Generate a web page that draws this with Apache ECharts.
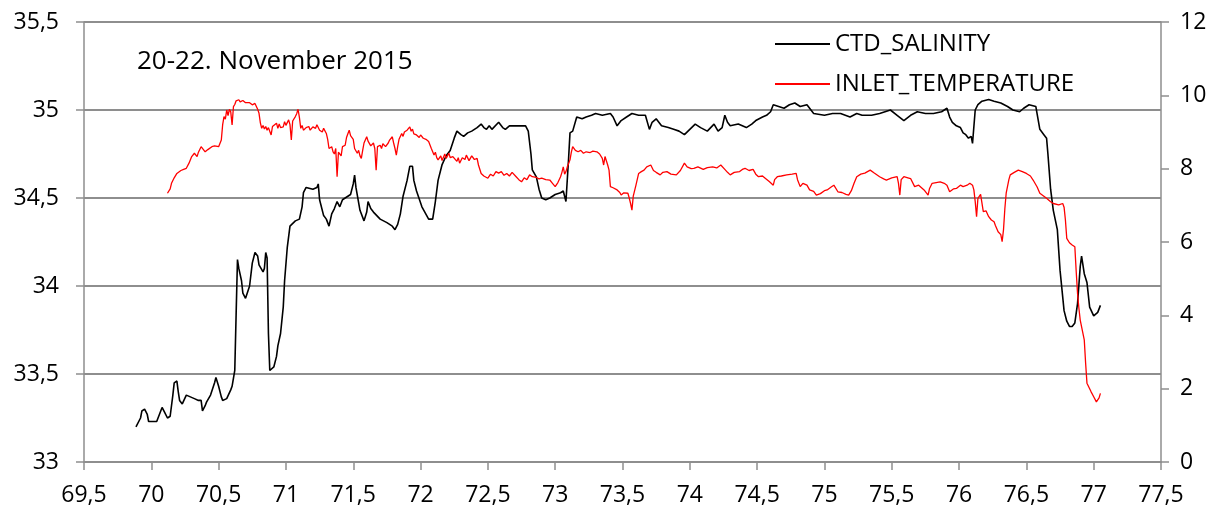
<!DOCTYPE html>
<html>
<head>
<meta charset="utf-8">
<script src="https://cdn.jsdelivr.net/npm/echarts@6/dist/echarts.min.js"></script>
<style>
  html, body { margin: 0; padding: 0; background: #fff; }
  #chart { width: 1225px; height: 512px; }
</style>
</head>
<body>
<div id="chart"></div>
<script>
// [x, salinity]
const salinity = [
  [69.886,33.20],[69.90,33.19],[69.92,33.25],[69.93,33.29],[69.95,33.30],[69.97,33.27],[69.98,33.23],[70.04,33.23],
  [70.06,33.27],[70.08,33.31],[70.10,33.28],[70.12,33.25],[70.14,33.26],[70.16,33.38],[70.17,33.45],[70.19,33.46],
  [70.20,33.40],[70.21,33.35],[70.23,33.33],[70.26,33.38],[70.29,33.37],[70.32,33.36],[70.35,33.35],[70.37,33.35],
  [70.38,33.29],[70.40,33.32],[70.41,33.34],[70.44,33.38],[70.45,33.37],[70.47,33.45],[70.48,33.48],[70.50,33.43],
  [70.52,33.37],[70.53,33.35],[70.56,33.36],[70.59,33.41],[70.60,33.43],[70.62,33.52],[70.63,33.84],[70.64,34.15],
  [70.65,34.10],[70.66,34.11],[70.67,34.03],[70.68,33.96],[70.70,33.93],[70.71,33.94],[70.73,34.00],[70.75,34.13],
  [70.77,34.19],[70.79,34.17],[70.80,34.12],[70.81,34.11],[70.83,34.08],[70.84,34.10],[70.85,34.19],[70.86,34.16],
  [70.87,33.73],[70.88,33.52],[70.91,33.54],[70.93,33.60],[70.94,33.66],[70.96,33.73],[70.98,33.88],[70.99,34.03],
  [71.01,34.22],[71.03,34.34],[71.07,34.37],[71.10,34.38],[71.12,34.45],[71.13,34.53],[71.15,34.56],[71.20,34.55],
  [71.23,34.56],[71.24,34.58],[71.25,34.49],[71.28,34.40],[71.30,34.38],[71.32,34.34],[71.34,34.41],[71.36,34.44],
  [71.38,34.48],[71.40,34.45],[71.42,34.49],[71.44,34.50],[71.46,34.51],[71.48,34.52],[71.50,34.58],[71.51,34.63],
  [71.52,34.56],[71.55,34.43],[71.58,34.37],[71.60,34.42],[71.61,34.48],[71.63,34.44],[71.65,34.42],[71.70,34.38],
  [71.75,34.36],[71.79,34.34],[71.81,34.32],[71.83,34.35],[71.85,34.41],[71.87,34.51],[71.90,34.60],[71.92,34.68],
  [71.94,34.68],[71.95,34.60],[71.97,34.54],[72.01,34.45],[72.06,34.38],[72.09,34.38],[72.11,34.48],[72.13,34.60],
  [72.16,34.69],[72.19,34.74],[72.22,34.77],[72.25,34.84],[72.27,34.88],[72.30,34.86],[72.32,34.85],[72.35,34.87],
  [72.38,34.88],[72.42,34.90],[72.45,34.92],[72.47,34.90],[72.49,34.89],[72.51,34.91],[72.53,34.89],[72.58,34.93],
  [72.61,34.90],[72.63,34.89],[72.66,34.91],[72.69,34.91],[72.74,34.91],[72.78,34.91],[72.80,34.88],[72.82,34.75],
  [72.83,34.66],[72.86,34.62],[72.88,34.55],[72.90,34.50],[72.93,34.49],[72.96,34.50],[73.00,34.52],[73.04,34.53],
  [73.06,34.54],[73.08,34.48],[73.10,34.73],[73.11,34.87],[73.13,34.88],[73.16,34.96],[73.20,34.95],[73.23,34.96],
  [73.27,34.97],[73.30,34.98],[73.35,34.97],[73.41,34.98],[73.43,34.96],[73.46,34.91],[73.49,34.94],[73.53,34.96],
  [73.57,34.98],[73.62,34.97],[73.67,34.97],[73.70,34.89],[73.72,34.93],[73.75,34.95],[73.79,34.91],[73.84,34.90],
  [73.88,34.89],[73.92,34.88],[73.96,34.86],[74.00,34.89],[74.04,34.92],[74.08,34.90],[74.13,34.88],[74.18,34.92],
  [74.21,34.88],[74.24,34.90],[74.26,34.97],[74.28,34.93],[74.30,34.91],[74.36,34.92],[74.42,34.90],[74.46,34.92],
  [74.49,34.94],[74.54,34.96],[74.57,34.97],[74.60,34.99],[74.62,35.03],[74.66,35.02],[74.70,35.01],[74.74,35.03],
  [74.78,35.04],[74.82,35.02],[74.87,35.03],[74.92,34.98],[75.00,34.97],[75.06,34.98],[75.12,34.98],[75.19,34.96],
  [75.24,34.98],[75.28,34.97],[75.35,34.97],[75.41,34.98],[75.45,34.99],[75.49,35.00],[75.54,34.97],[75.59,34.94],
  [75.64,34.97],[75.69,34.99],[75.75,34.98],[75.81,34.98],[75.87,34.99],[75.91,35.01],[75.93,34.96],[75.95,34.93],
  [75.98,34.91],[76.01,34.90],[76.03,34.87],[76.05,34.86],[76.07,34.84],[76.09,34.85],[76.10,34.81],[76.12,35.00],
  [76.14,35.03],[76.17,35.05],[76.22,35.06],[76.26,35.05],[76.31,35.04],[76.36,35.02],[76.40,35.00],[76.45,34.99],
  [76.48,35.01],[76.52,35.03],[76.57,35.02],[76.60,34.89],[76.63,34.86],[76.65,34.84],[76.66,34.75],[76.68,34.55],
  [76.70,34.43],[76.73,34.32],[76.75,34.09],[76.78,33.86],[76.80,33.80],[76.82,33.77],[76.84,33.77],[76.86,33.79],
  [76.88,33.90],[76.90,34.11],[76.91,34.17],[76.93,34.07],[76.95,34.02],[76.97,33.88],[77.00,33.83],[77.03,33.85],
  [77.05,33.89]
];

// [x, inlet temperature]
const temperature = [
  [70.12,7.33],[70.13,7.30],[70.14,7.45],[70.15,7.60],[70.17,7.75],[70.19,7.87],[70.22,7.95],[70.24,7.98],[70.26,8.01],
  [70.28,8.15],[70.30,8.33],[70.32,8.42],[70.33,8.38],[70.34,8.33],[70.35,8.45],[70.37,8.60],[70.38,8.55],[70.40,8.46],
  [70.42,8.52],[70.45,8.60],[70.47,8.62],[70.50,8.60],[70.52,8.78],[70.53,9.20],[70.54,9.42],[70.55,9.35],[70.56,9.60],
  [70.57,9.45],[70.58,9.62],[70.59,9.55],[70.60,9.19],[70.61,9.69],[70.62,9.75],[70.63,9.85],[70.64,9.80],[70.65,9.88],
  [70.66,9.82],[70.68,9.86],[70.70,9.80],[70.73,9.80],[70.75,9.74],[70.77,9.78],[70.79,9.62],[70.80,9.51],[70.81,9.25],
  [70.82,9.10],[70.83,9.18],[70.84,9.08],[70.85,9.15],[70.86,9.05],[70.87,9.12],[70.89,8.92],[70.90,9.15],[70.91,9.20],
  [70.93,9.24],[70.94,9.10],[70.95,9.22],[70.96,9.12],[70.98,9.14],[70.99,9.28],[71.00,9.18],[71.02,9.33],[71.03,9.20],
  [71.04,8.78],[71.05,9.30],[71.07,9.42],[71.08,9.50],[71.09,9.62],[71.10,9.40],[71.11,9.10],[71.12,9.18],[71.13,9.05],
  [71.15,9.12],[71.17,9.15],[71.18,9.05],[71.20,9.14],[71.22,9.10],[71.23,9.20],[71.25,9.05],[71.27,9.00],[71.28,9.10],
  [71.30,8.96],[71.31,8.80],[71.32,8.55],[71.33,8.50],[71.34,8.60],[71.35,8.46],[71.36,8.40],[71.37,8.55],[71.38,7.78],
  [71.39,8.45],[71.40,8.50],[71.41,8.35],[71.42,8.60],[71.44,8.64],[71.45,8.85],[71.46,8.95],[71.47,9.05],[71.48,8.90],
  [71.49,8.95],[71.50,8.80],[71.51,8.55],[71.52,8.60],[71.53,8.42],[71.54,8.50],[71.55,8.35],[71.56,8.28],[71.57,8.50],
  [71.58,8.70],[71.60,8.87],[71.61,8.75],[71.62,8.80],[71.63,8.62],[71.64,8.60],[71.65,8.70],[71.66,8.55],[71.67,7.96],
  [71.68,8.60],[71.70,8.64],[71.71,8.55],[71.72,8.68],[71.74,8.60],[71.76,8.70],[71.77,8.78],[71.79,8.87],[71.80,8.70],
  [71.81,8.55],[71.82,8.37],[71.83,8.60],[71.84,8.80],[71.86,8.96],[71.87,8.88],[71.88,9.00],[71.90,9.05],[71.92,9.14],
  [71.93,9.02],[71.94,9.08],[71.95,8.95],[71.97,8.92],[71.99,8.85],[72.00,8.92],[72.02,8.83],[72.04,8.80],[72.06,8.74],
  [72.08,8.55],[72.10,8.37],[72.11,8.45],[72.12,8.30],[72.13,8.24],[72.15,8.35],[72.16,8.22],[72.18,8.40],[72.19,8.28],
  [72.21,8.42],[72.22,8.30],[72.24,8.33],[72.25,8.38],[72.27,8.20],[72.28,8.30],[72.29,8.15],[72.31,8.30],[72.33,8.25],
  [72.34,8.37],[72.36,8.22],[72.38,8.35],[72.40,8.25],[72.42,8.28],[72.43,8.10],[72.45,7.87],[72.47,7.80],[72.48,7.85],
  [72.50,7.74],[72.52,7.85],[72.54,7.80],[72.56,7.92],[72.58,7.88],[72.60,7.92],[72.62,7.82],[72.64,7.87],[72.66,7.80],
  [72.68,7.90],[72.71,7.78],[72.73,7.70],[72.75,7.64],[72.77,7.75],[72.79,7.70],[72.81,7.83],[72.83,7.78],[72.86,7.76],
  [72.88,7.72],[72.90,7.74],[72.93,7.70],[72.96,7.69],[72.98,7.60],[73.00,7.51],[73.02,7.62],[73.04,7.78],[73.05,7.90],
  [73.06,8.05],[73.07,7.85],[73.08,7.92],[73.09,8.05],[73.11,8.24],[73.12,8.45],[73.13,8.60],[73.15,8.50],[73.17,8.46],
  [73.19,8.50],[73.21,8.42],[73.23,8.46],[73.26,8.44],[73.28,8.48],[73.31,8.46],[73.33,8.40],[73.35,8.28],[73.36,8.10],
  [73.37,8.33],[73.39,8.10],[73.40,7.96],[73.41,7.51],[73.43,7.48],[73.46,7.42],[73.48,7.35],[73.49,7.28],[73.51,7.34],
  [73.54,7.33],[73.55,7.20],[73.56,7.05],[73.57,6.87],[73.58,7.25],[73.60,7.55],[73.62,7.87],[73.64,7.92],[73.66,7.96],
  [73.68,8.05],[73.71,8.10],[73.73,7.95],[73.75,7.90],[73.78,7.83],[73.80,7.90],[73.83,7.92],[73.86,7.85],[73.90,7.83],
  [73.93,7.95],[73.96,8.15],[73.98,8.05],[74.01,8.00],[74.03,8.01],[74.06,8.05],[74.10,7.98],[74.13,8.03],[74.17,8.05],
  [74.20,8.02],[74.23,8.10],[74.26,7.98],[74.28,7.90],[74.30,7.83],[74.33,7.90],[74.37,7.92],[74.39,7.98],[74.41,8.01],
  [74.44,7.95],[74.47,7.98],[74.49,7.85],[74.51,7.78],[74.54,7.80],[74.56,7.74],[74.59,7.65],[74.62,7.55],[74.63,7.70],
  [74.65,7.78],[74.68,7.80],[74.72,7.83],[74.76,7.85],[74.79,7.87],[74.80,7.70],[74.82,7.51],[74.84,7.60],[74.87,7.55],
  [74.89,7.42],[74.92,7.38],[74.94,7.28],[74.97,7.32],[75.00,7.40],[75.02,7.42],[75.05,7.50],[75.07,7.55],[75.10,7.37],
  [75.13,7.35],[75.16,7.30],[75.18,7.28],[75.20,7.40],[75.22,7.60],[75.24,7.78],[75.27,7.85],[75.30,7.88],[75.34,7.96],
  [75.37,7.88],[75.41,7.78],[75.44,7.72],[75.46,7.69],[75.50,7.75],[75.54,7.78],[75.55,7.60],[75.56,7.28],[75.57,7.70],
  [75.59,7.78],[75.62,7.75],[75.64,7.73],[75.67,7.51],[75.70,7.55],[75.74,7.42],[75.77,7.28],[75.78,7.45],[75.80,7.60],
  [75.83,7.62],[75.86,7.64],[75.89,7.60],[75.91,7.55],[75.93,7.37],[75.96,7.45],[75.98,7.46],[76.01,7.55],[76.03,7.51],
  [76.06,7.55],[76.08,7.60],[76.10,7.55],[76.11,7.42],[76.12,7.10],[76.13,6.69],[76.14,7.19],[76.16,7.30],[76.17,7.28],
  [76.18,6.83],[76.20,6.85],[76.22,6.69],[76.24,6.60],[76.26,6.55],[76.27,6.45],[76.29,6.28],[76.31,6.20],[76.32,6.01],
  [76.33,6.33],[76.34,6.90],[76.35,7.33],[76.37,7.70],[76.38,7.83],[76.41,7.90],[76.44,7.96],[76.47,7.92],[76.50,7.87],
  [76.53,7.80],[76.55,7.69],[76.58,7.50],[76.60,7.33],[76.63,7.25],[76.65,7.19],[76.68,7.10],[76.70,7.05],[76.74,7.01],
  [76.77,7.05],[76.78,6.95],[76.79,6.60],[76.80,6.10],[76.82,5.98],[76.84,5.92],[76.86,5.87],[76.87,5.20],[76.88,4.60],
  [76.89,4.20],[76.90,3.87],[76.93,3.33],[76.94,2.70],[76.95,2.15],[76.97,2.00],[76.98,1.92],[77.00,1.78],[77.02,1.64],
  [77.04,1.75],[77.05,1.87]
];

const seriesNames = ['CTD_SALINITY', 'INLET_TEMPERATURE'];
const titleText = '20-22. November 2015';

const font = '"Open Sans", sans-serif';
const axisGray = '#8e8e8e';
const comma = (v) => String(v).replace('.', ',');

const chart = echarts.init(document.getElementById('chart'));

const option = {
  animation: false,
  backgroundColor: '#fff',
  textStyle: { fontFamily: font },
  grid: { left: 84, right: 64, top: 22, bottom: 50 },
  graphic: [
    {
      type: 'text',
      x: 137,
      y: 62,
      style: { text: titleText, font: '26px ' + font, fill: '#000', verticalAlign: 'middle' }
    }
  ],
  legend: {
    data: seriesNames,
    orient: 'vertical',
    left: 775,
    top: 32,
    padding: 0,
    icon: 'rect',
    itemWidth: 55,
    itemHeight: 2,
    itemGap: 16,
    textStyle: { fontSize: 24, color: '#000', fontFamily: font, lineHeight: 24 }
  },
  xAxis: {
    type: 'value',
    min: 69.5,
    max: 77.5,
    interval: 0.5,
    splitLine: { show: false },
    axisLine: { lineStyle: { color: axisGray, width: 1.5 } },
    axisTick: { show: true, length: 8, lineStyle: { color: axisGray, width: 1.5 } },
    axisLabel: { color: '#000', fontSize: 23, margin: 22, fontFamily: font, formatter: comma }
  },
  yAxis: [
    {
      type: 'value',
      min: 33,
      max: 35.5,
      interval: 0.5,
      position: 'left',
      splitLine: { show: true, lineStyle: { color: axisGray, width: 2 } },
      axisLine: { show: true, lineStyle: { color: axisGray, width: 1.5 } },
      axisTick: { show: true, length: 8, lineStyle: { color: axisGray, width: 1.5 } },
      axisLabel: { color: '#000', fontSize: 23, margin: 25, fontFamily: font, formatter: comma }
    },
    {
      type: 'value',
      min: 0,
      max: 12,
      interval: 2,
      position: 'right',
      splitLine: { show: false },
      axisLine: { show: true, lineStyle: { color: axisGray, width: 1.5 } },
      axisTick: { show: true, length: 8, lineStyle: { color: axisGray, width: 1.5 } },
      axisLabel: { color: '#000', fontSize: 23, margin: 19, fontFamily: font }
    }
  ],
  series: [
    {
      name: seriesNames[0],
      type: 'line',
      yAxisIndex: 0,
      data: salinity,
      showSymbol: false,
      symbol: 'none',
      color: '#000',
      lineStyle: { color: '#000', width: 1.6 }
    },
    {
      name: seriesNames[1],
      type: 'line',
      yAxisIndex: 1,
      data: temperature,
      showSymbol: false,
      symbol: 'none',
      color: '#ff0000',
      lineStyle: { color: '#ff0000', width: 1.3 }
    }
  ]
};

chart.setOption(option);
</script>
</body>
</html>
